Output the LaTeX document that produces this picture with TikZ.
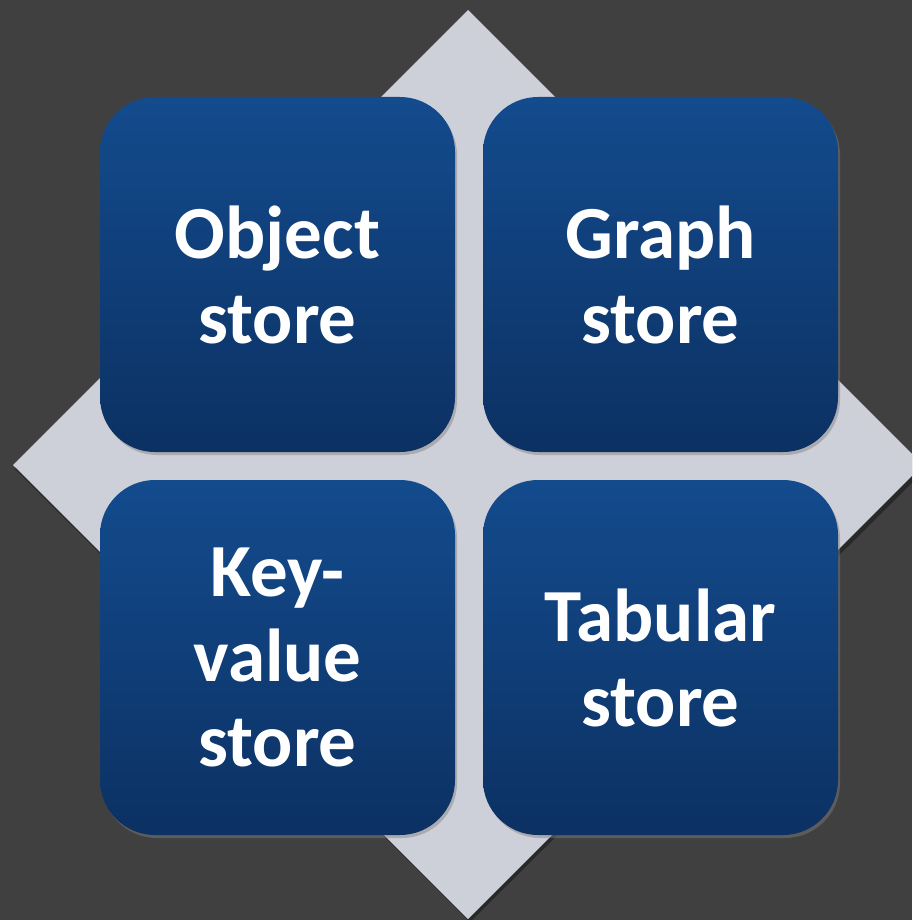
\documentclass[tikz,border=0pt]{standalone}
\usepackage{fontspec}
\setmainfont{Carlito}
\usetikzlibrary{shadows}
\definecolor{bgdark}{HTML}{404040}
\definecolor{diamondgray}{HTML}{CDD0D9}
\definecolor{boxtop}{HTML}{134B8D}
\definecolor{boxbottom}{HTML}{0C3163}
\begin{document}
\begin{tikzpicture}[x=1pt,y=-1pt,
    storebox/.style={shape=rectangle,rounded corners=55pt,minimum width=355pt,minimum height=355pt,
      top color=boxtop,bottom color=boxbottom,text=white,align=center,
      font=\fontsize{75}{85}\selectfont\bfseries,
      drop shadow={opacity=0.45,shadow xshift=2pt,shadow yshift=-3pt}}]
      \useasboundingbox (0,0) rectangle (912,920);
      \clip (0,0) rectangle (912,920);
      \fill[bgdark] (0,0) rectangle (912,920);
      % diamond behind the boxes
      \fill[black,opacity=0.35] (470,13) -- (926,469) -- (470,922) -- (15,469) -- cycle;
      \fill[diamondgray] (468,10) -- (923,465) -- (468,919) -- (13,465) -- cycle;
      \node[storebox] (object)  at (277.5,274.5) {Object\\store};
      \node[storebox] (graph)   at (660.5,274.5) {Graph\\store};
      \node[storebox] (keyval)  at (277.5,657.5) {Key-\\value\\store};
      \node[storebox] (tabular) at (660.5,657.5) {Tabular\\store};
    \end{tikzpicture}
\end{document}
